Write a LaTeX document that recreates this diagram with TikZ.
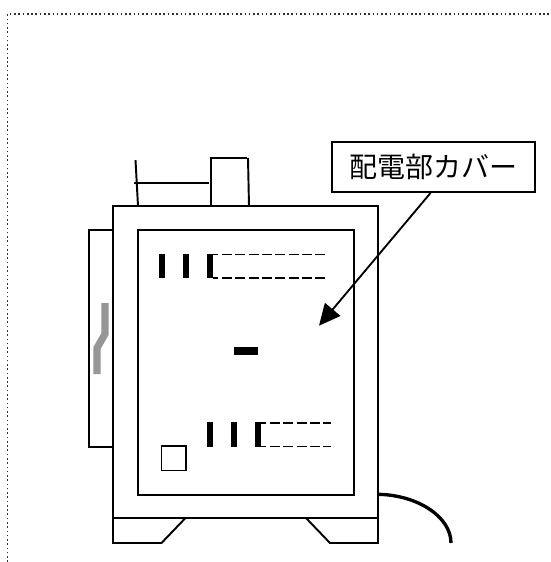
\documentclass[tikz,border=0pt]{standalone}
\usepackage{fontspec}
\newfontfamily\jpfont{Noto Sans CJK JP}
\usetikzlibrary{arrows.meta}
\tikzset{
  px/.style={x=0.75pt,y=-0.75pt},
  ln/.style={draw=black,line width=1.45pt},
  bar/.style={fill=black,draw=none},
  dashln/.style={draw=black,line width=1.45pt,dash pattern=on 7.4pt off 2.6pt},
  frame/.style={draw=black!80,line width=1.3pt,dash pattern=on 1.2pt off 2pt},
  labelbox/.style={draw=black,line width=1.5pt,fill=white,minimum width=152.5pt,minimum height=37.5pt,inner sep=0pt,font=\jpfont\fontsize{21pt}{22pt}\selectfont},
  callout/.style={draw=black,line width=1.4pt,-{Triangle[length=16pt,width=15pt]}}
}
\begin{document}
\begin{tikzpicture}[px]
\useasboundingbox (0,0) rectangle (551,562);
% dotted frame
\draw[frame] (7.5,562) -- (7.5,14) -- (551,14);
% body
\draw[ln] (113,206) rectangle (378,518);
\draw[ln] (138,230) rectangle (354,495);
% left panel
\draw[ln] (113,230) -- (89,230) -- (89,447) -- (113,447);
% gray handle
\draw[draw=black!41,line width=5.4pt] (105,303) -- (105,334) -- (97,348) -- (97,374);
% top parts
\draw[ln] (211,206) -- (211,158) -- (247,158);
\draw[ln] (248,158) -- (249,206);
\draw[ln] (135.5,160) -- (138,206);
\draw[ln] (134,183) -- (209,183);
% feet
\draw[ln] (113,518) -- (113,543) -- (161.5,543) -- (185.5,518);
\draw[ln] (306,518) -- (330,543) -- (378,543) -- (378,518);
% square
\draw[ln] (161.5,446) rectangle (186,470.5);
% upper bars
\fill[bar] (158.7,254.3) rectangle (164.7,278);
\fill[bar] (182.7,254.3) rectangle (188.7,278);
\fill[bar] (207,254.3) rectangle (213,278);
\draw[ln] (213,254.5) -- (218,254.5) (213,278) -- (218,278);
\draw[dashln] (222,254.5) -- (326,254.5);
\draw[dashln] (222,278) -- (326,278);
% centre bar
\fill[bar] (233.7,346.7) rectangle (258,354.7);
% lower bars
\fill[bar] (206.7,422.3) rectangle (212.7,446.5);
\fill[bar] (230.7,422.3) rectangle (236.7,446.5);
\fill[bar] (255,422.3) rectangle (261,446.5);
\draw[ln] (261,422.7) -- (266,422.7) (261,446.5) -- (266,446.5);
\draw[dashln] (270,422.7) -- (331,422.7);
\draw[dashln] (270,446.5) -- (331,446.5);
% cord
\draw[draw=black,line width=2.5pt] (378,494.3) .. controls (418,495) and (451,517) .. (451,543);
% label
\node[labelbox] (cover) at (433.5,167) {\raisebox{1.5pt}{配電部カバー}};
\coordinate (target) at (319,325.7);
\draw[callout] (cover.south) ++(-3,0) -- (target);
\end{tikzpicture}
\end{document}
